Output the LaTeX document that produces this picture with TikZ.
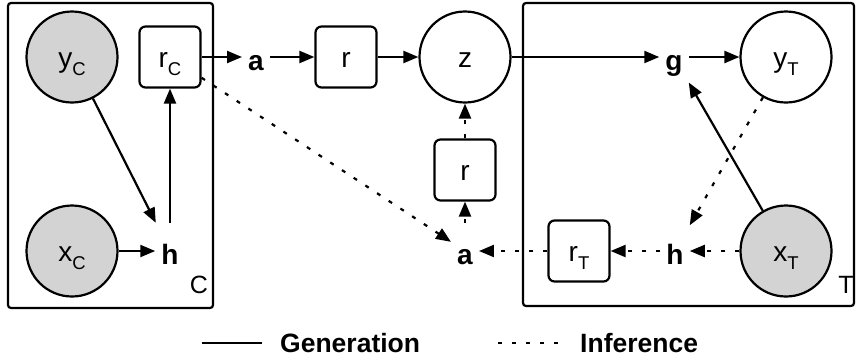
\documentclass[tikz,border=0pt]{standalone}
\usepackage{fontspec}
\setmainfont{Liberation Sans}
\usetikzlibrary{arrows.meta}
\definecolor{obsgray}{RGB}{211,211,211}
\newcommand{\sbx}[1]{\raisebox{-8pt}{\fontsize{18.5}{18.5}\selectfont #1}}
\begin{document}
\begin{tikzpicture}[x=1pt,y=-1pt,
  lbl/.style={font=\fontsize{28}{30}\selectfont, text height=20pt, text depth=0pt},
  var/.style={lbl, circle, draw, line width=2.2pt, minimum size=91pt, inner sep=0pt, fill=white},
  obs/.style={var, fill=obsgray},
  det/.style={lbl, rectangle, rounded corners=6pt, draw, line width=2.2pt, minimum width=61pt, minimum height=61pt, inner sep=0pt, fill=white},
  txt/.style={font=\bfseries\fontsize{28}{30}\selectfont, text height=26pt, text depth=0pt, minimum height=56pt, inner xsep=6pt, inner ysep=0pt},
  platelbl/.style={font=\fontsize{25}{25}\selectfont, inner sep=0pt},
  legtxt/.style={font=\bfseries\fontsize{26.5}{26.5}\selectfont, anchor=base west, inner sep=0pt},
  plate/.style={draw, line width=2.2pt, rounded corners=3pt},
  gen/.style={line width=2.2pt, -{Triangle[length=15pt,width=12pt]}},
  inf/.style={gen, dash pattern=on 4pt off 10pt},
]
\useasboundingbox (0,0) rectangle (856,362);
% plates
\draw[plate] (8,3) rectangle (213,308);
\draw[plate] (523,3) rectangle (854,306);
\node[platelbl] (lC) at (199,285) {C};
\node[platelbl] (lT) at (846,285) {T};
% nodes
\node[obs] (yC) at (72,57) {y\sbx{C}};
\node[obs] (xC) at (72,251) {x\sbx{C}};
\node[det] (rC) at (170,57) {r\sbx{C}};
\node[txt] (hC) at (170,251) {h};
\node[txt] (a1) at (256,57) {a};
\node[det] (r1) at (346,57) {r};
\node[var] (z) at (465,57) {z};
\node[det] (r2) at (465,170) {r};
\node[txt] (a2) at (465,251) {a};
\node[det] (rT) at (579,251) {r\sbx{T}};
\node[txt] (hT) at (675,251) {h};
\node[obs] (xT) at (786,251) {x\sbx{T}};
\node[txt] (g) at (674,57) {g};
\node[var] (yT) at (786,57) {y\sbx{T}};
% generation
\draw[gen] (yC) -- (hC);
\draw[gen] (xC) -- (hC);
\draw[gen] (hC) -- (rC);
\draw[gen] (rC) -- (a1);
\draw[gen] (a1) -- (r1);
\draw[gen] (r1) -- (z);
\draw[gen] (z) -- (g);
\draw[gen] (g) -- (yT);
\draw[gen] (xT) -- (g);
% inference
\draw[inf] (yT) -- (hT);
\draw[inf] (xT) -- (hT);
\draw[inf] (hT) -- (rT);
\draw[inf] (rT) -- (a2);
\draw[inf] (rC) -- (a2);
\draw[inf] (a2) -- (r2);
\draw[inf] (r2) -- (z);
% legend
\coordinate (g1) at (202,343);
\coordinate (g2) at (262,343);
\draw[line width=2.2pt] (g1) -- (g2);
\node[legtxt] (gl) at (280,352) {Generation};
\coordinate (i1) at (498,343);
\coordinate (i2) at (562,343);
\draw[line width=2.2pt, dash pattern=on 4pt off 10pt] (i1) -- (i2);
\node[legtxt] (il) at (580,352) {Inference};
\end{tikzpicture}
\end{document}
